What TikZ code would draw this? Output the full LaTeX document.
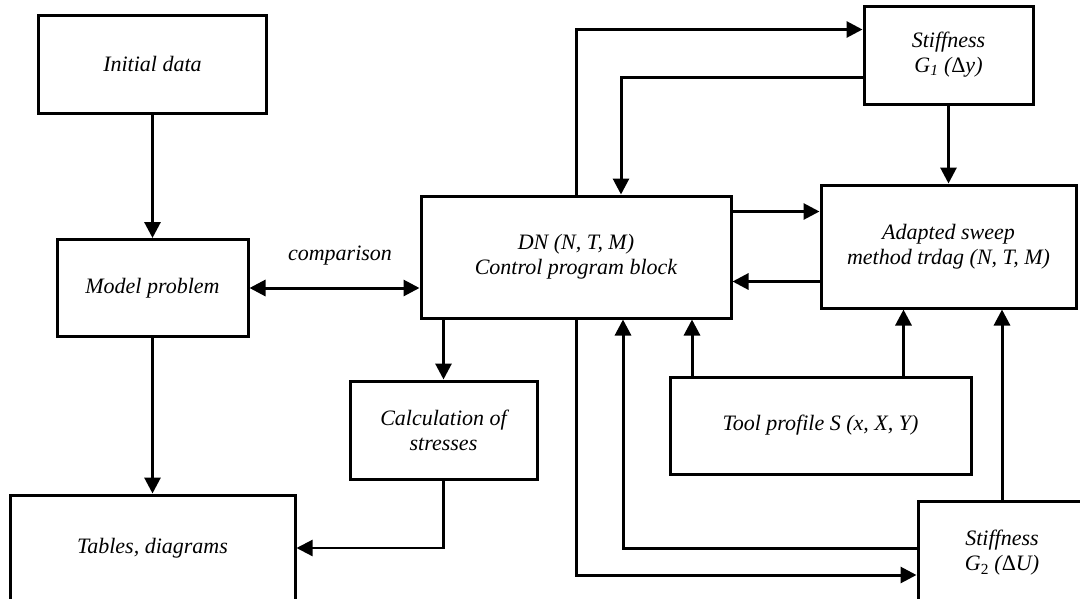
\documentclass[tikz,border=0pt]{standalone}
\usepackage{fontspec}
\setmainfont{Liberation Serif}
\usetikzlibrary{arrows.meta}

\begin{document}
\begin{tikzpicture}[x=1pt, y=-1pt,
  block/.style={shape=rectangle, draw=black, line width=3pt, inner sep=0pt, align=center, font=\itshape\fontsize{22}{25}\selectfont},
  link/.style={line width=3pt, -{Triangle[length=16pt,width=16pt]}}]

\path[use as bounding box, clip] (0,0) rectangle (1080,598);

\node [block, minimum width=228pt, minimum height=98pt] (init) at (152.5,64) {Initial data};
\node [block, minimum width=191pt, minimum height=97pt] (model) at (152.5,288) {Model problem};
\node [block, minimum width=285pt, minimum height=106pt] (tables) at (152.5,548) {Tables, diagrams};
\node [block, minimum width=187pt, minimum height=98pt] (calc) at (443.5,430) {Calculation of\\stresses};
\node [block, minimum width=310pt, minimum height=122pt] (dn) at (576,257) {DN (N, T, M)\\Control program block};
\node [block, minimum width=255pt, minimum height=123pt] (adapt) at (948.5,246.5) {Adapted sweep\\method trdag (N, T, M)};
\node [block, minimum width=169pt, minimum height=98pt] (g1) at (948.5,55) {Stiffness\\\textit{G}\textsubscript{\textit{1}} ({\upshape Δ}\textit{y})};
\node [block, minimum width=301pt, minimum height=97pt] (tool) at (820.5,425.5) {Tool profile S (x, X, Y)};
\node [block, minimum width=168pt, minimum height=104pt] (g2) at (1002,553) {Stiffness\\\textit{G}\textsubscript{\upshape 2} ({\upshape Δ}\textit{U})};
\node [font=\itshape\fontsize{22}{25}\selectfont] (cmp) at (340,256) {comparison};

\draw [link] (init) -- (model);
\draw [link] (model) -- (tables);
\draw [link, {Triangle[length=16pt,width=16pt]}-{Triangle[length=16pt,width=16pt]}] (model.east) -- (model.east -| dn.west);
\draw [link] (calc.north |- dn.south) -- (calc.north);
\draw [link, line width=2.2pt] (calc.south) |- (tables.east);
\draw [link] ([yshift=-17pt]dn.north east) -- ([yshift=-17pt]dn.north east -| adapt.west);
\draw [link] ([yshift=28pt]adapt.south west) -- ([yshift=28pt]adapt.south west -| dn.east);
\draw [link] (g1) -- (adapt);
\draw [link] (dn.north) |- ([yshift=-25pt]g1.north west);
\draw [link] ([yshift=28pt]g1.south west) -| ([xshift=45pt]dn.north);
\draw [link] (dn.south) |- ([yshift=-22pt]g2.west);
\draw [link] ([yshift=5pt]g2.west) -| ([xshift=47pt]dn.south);
\draw [link] ([xshift=23.5pt]tool.north west) -- ([xshift=23.5pt]tool.north west |- dn.south);
\draw [link] ([xshift=-69pt]tool.north east) -- ([xshift=-69pt]tool.north east |- adapt.south);
\draw [link] (g2.north) -- (g2.north |- adapt.south);
\end{tikzpicture}
\end{document}
